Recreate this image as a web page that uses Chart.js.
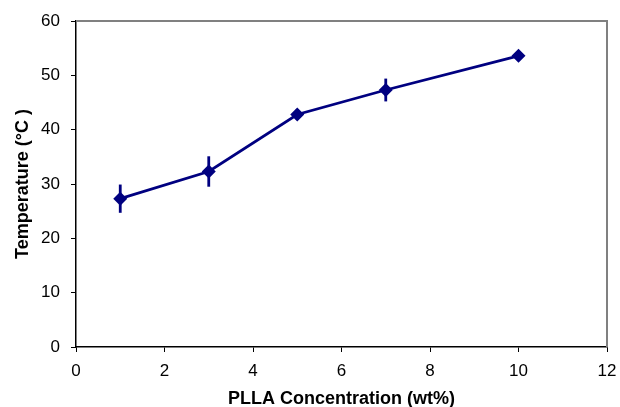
<!DOCTYPE html>
<html>
<head>
<meta charset="utf-8">
<script src="https://cdn.jsdelivr.net/npm/chart.js@4"></script>
<style>
  html, body { margin: 0; padding: 0; background: #fff; }
  #wrap { width: 620px; height: 407px; }
</style>
</head>
<body>
<div id="wrap"><canvas id="tempChart" width="620" height="407"></canvas></div>
<script>
// Données
const concentrations = [1, 3, 5, 7, 10];
const temperatures = [27.3, 32.3, 42.8, 47.3, 53.6];
const tempErrors = [2.6, 2.8, 1.0, 2.1, 0.5];

const xTicks = [0, 2, 4, 6, 8, 10, 12];
const yTicks = [0, 10, 20, 30, 40, 50, 60];

const NAVY = "#000080";

// barres d'erreur verticales (sans chapeau)
const errorBarsPlugin = {
  id: "errorBars",
  afterDatasetsDraw(chart) {
    const ctx = chart.ctx;
    const xs = chart.scales.x;
    const ys = chart.scales.y;
    ctx.save();
    ctx.strokeStyle = NAVY;
    ctx.lineWidth = 2.8;
    concentrations.forEach((c, i) => {
      const px = xs.getPixelForValue(c);
      ctx.beginPath();
      ctx.moveTo(px, ys.getPixelForValue(temperatures[i] + tempErrors[i]));
      ctx.lineTo(px, ys.getPixelForValue(temperatures[i] - tempErrors[i]));
      ctx.stroke();
    });
    ctx.restore();
  }
};

// cadre gris en haut et à droite
const frameplugin = {
  id: "frame",
  afterDraw(chart) {
    const a = chart.chartArea;
    const ctx = chart.ctx;
    ctx.save();
    ctx.strokeStyle = "#808080";
    ctx.lineWidth = 2;
    ctx.beginPath();
    ctx.moveTo(a.left, a.top);
    ctx.lineTo(a.right, a.top);
    ctx.lineTo(a.right, a.bottom);
    ctx.stroke();
    ctx.restore();
  }
};

const points = concentrations.map((c, i) => ({ x: c, y: temperatures[i] }));

new Chart(document.getElementById("tempChart").getContext("2d"), {
  type: "scatter",
  data: {
    datasets: [{
      data: points,
      showLine: true,
      borderColor: NAVY,
      backgroundColor: NAVY,
      borderWidth: 2.8,
      pointStyle: "rectRot",
      pointRadius: 7,
      pointHoverRadius: 7,
      pointBorderWidth: 0
    }]
  },
  options: {
    responsive: false,
    animation: false,
    layout: { padding: { top: 21, right: 13, left: 0, bottom: 0 } },
    plugins: {
      legend: { display: false },
      tooltip: { enabled: false }
    },
    scales: {
      x: {
        type: "linear",
        min: 0,
        max: 12,
        afterBuildTicks: (s) => { s.ticks = xTicks.map(v => ({ value: v })); },
        afterFit: (s) => { s.height = 60; s.paddingRight = 0; s.paddingLeft = 0; },
        grid: { drawOnChartArea: false, drawTicks: true, tickLength: 5, color: "#000" },
        border: { color: "#000", width: 1.5 },
        ticks: { color: "#000", font: { family: "Liberation Sans", size: 17 }, padding: 9 },
        title: {
          display: true,
          text: "PLLA Concentration (wt%)",
          color: "#000",
          font: { family: "Liberation Sans", size: 18, weight: "bold" },
          padding: { top: 0, bottom: -3 }
        }
      },
      y: {
        min: 0,
        max: 60,
        afterBuildTicks: (s) => { s.ticks = yTicks.map(v => ({ value: v })); },
        afterFit: (s) => { s.width = 76; s.paddingTop = 0; s.paddingBottom = 0; },
        grid: { drawOnChartArea: false, drawTicks: true, tickLength: 5, color: "#000" },
        border: { color: "#000", width: 1.5 },
        ticks: { color: "#000", font: { family: "Liberation Sans", size: 17 }, padding: 11 },
        title: {
          display: true,
          text: "Temperature (°C )",
          color: "#000",
          font: { family: "Liberation Sans", size: 18, weight: "bold" },
          padding: { top: 12, bottom: 0 }
        }
      }
    }
  },
  plugins: [errorBarsPlugin, frameplugin]
});
</script>
</body>
</html>
